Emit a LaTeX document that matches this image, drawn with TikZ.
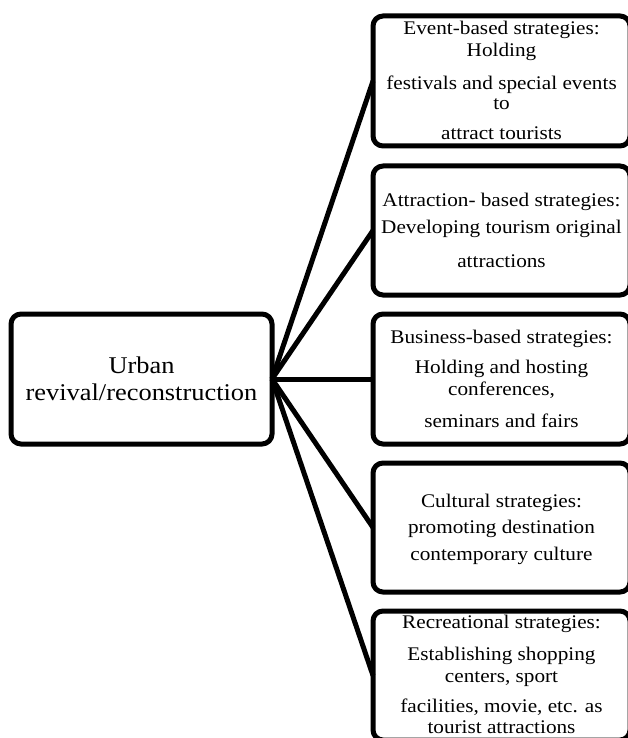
\documentclass[tikz,border=0pt]{standalone}
\usepackage{fontspec}
\setmainfont[FakeStretch=1.1]{Liberation Serif}
\tikzset{
  box/.style={draw, line width=5pt, rounded corners=10pt, inner sep=0pt, outer sep=0pt, fill=white},
  rbox/.style={box, minimum width=257pt},
  conn/.style={line width=5pt},
  txt/.style={align=center, inner sep=0pt, font=\fontsize{19.3}{21}\selectfont},
  bigtxt/.style={align=center, inner sep=0pt, font=\fontsize{24}{27}\selectfont}
}
\begin{document}
\begin{tikzpicture}[x=1pt,y=-1pt]
\useasboundingbox (0,0) rectangle (628,738);
\node[box, minimum width=261pt, minimum height=130pt] (urb) at (141.5,379) {};
\node[rbox, minimum height=130pt] (b1) at (501.5,81) {};
\node[rbox, minimum height=129pt] (b2) at (501.5,230.5) {};
\node[rbox, minimum height=130pt] (b3) at (501.5,379) {};
\node[rbox, minimum height=129pt] (b4) at (501.5,527.5) {};
\node[rbox, minimum height=129pt] (b5) at (501.5,675.5) {};
\foreach \b in {b1,b2,b3,b4,b5}{\draw[conn] (urb.east) -- (\b.west);}
\node[bigtxt, anchor=base] (tu) at (141.5,400) {Urban\\revival/reconstruction};
\node[txt, anchor=base] (t1) at (501.5,140) {Event-based strategies:\\[1pt]Holding\\[12pt]festivals and special events\\[-1pt]to\\[9pt]attract tourists};
\node[txt, anchor=base] (t2) at (501.5,267) {Attraction- based strategies:\\[6pt]Developing tourism original\\[13pt]attractions};
\node[txt, anchor=base] (t3) at (501.5,427) {Business-based strategies:\\[9pt]Holding and hosting\\[1pt]conferences,\\[11pt]seminars and fairs};
\node[txt, anchor=base] (t4) at (501.5,560) {Cultural strategies:\\[5pt]promoting destination\\[6pt]contemporary culture};
\node[txt, anchor=base] (t5) at (501.5,733) {Recreational strategies:\\[11pt]Establishing shopping\\[1pt]centers, sport\\[9pt]facilities, movie, etc. as\\[0pt]tourist attractions};
\end{tikzpicture}
\end{document}
